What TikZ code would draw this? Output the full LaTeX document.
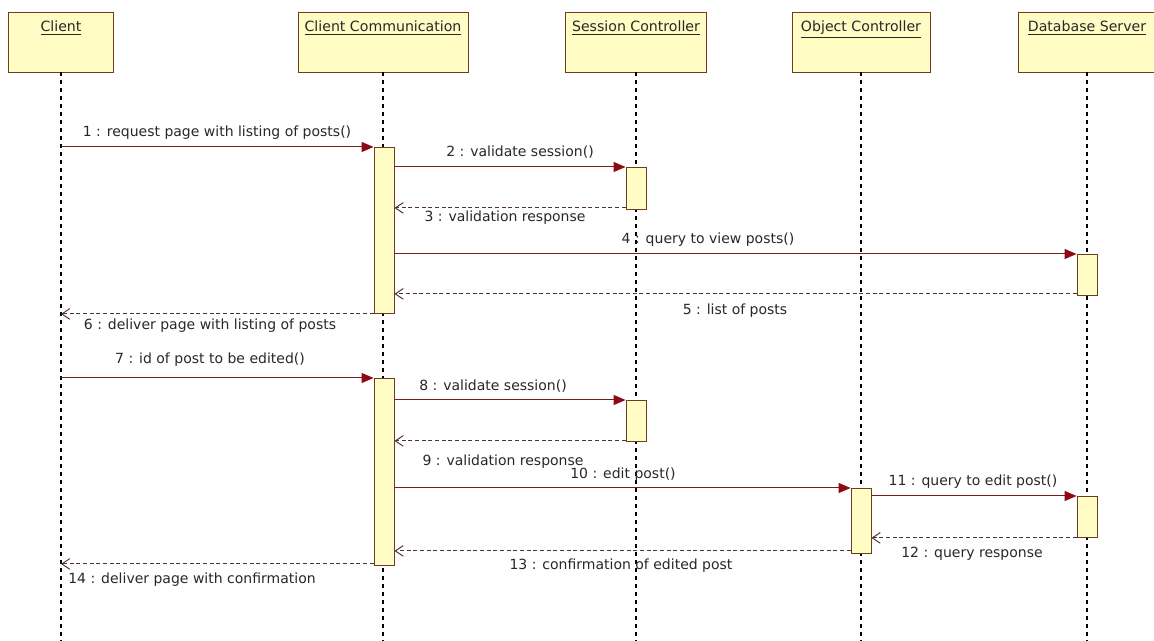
\documentclass[tikz,border=0pt]{standalone}
\usepackage{fontspec}
\setmainfont{DejaVu Sans}
\usetikzlibrary{arrows.meta}
\definecolor{boxfill}{RGB}{255,252,196}
\definecolor{boxline}{RGB}{110,60,30}
\definecolor{callline}{RGB}{120,30,30}
\definecolor{callhead}{RGB}{140,10,20}
\definecolor{retline}{RGB}{80,50,50}
\definecolor{txt}{RGB}{40,40,40}
\begin{document}
\begin{tikzpicture}[x=0.75pt,y=-0.75pt,
  head/.style={draw=boxline, fill=boxfill, line width=0.7pt, minimum height=45pt,
    inner ysep=3.5pt, text height=11.5pt, text depth=26.5pt,
    font=\fontsize{10.6}{12}\selectfont, text=txt},
  lifeline/.style={draw=black, line width=0.8pt, dash pattern=on 3pt off 3pt},
  act/.style={draw=boxline, fill=boxfill, line width=0.7pt, minimum width=15pt,
    inner sep=0pt, anchor=north},
  call/.style={draw=callline, line width=0.75pt,
    -{Triangle[length=9pt,width=7.5pt,color=callhead]}},
  ret/.style={draw=retline, line width=0.7pt, dash pattern=on 3pt off 2pt,
    -{Straight Barb[length=6pt,width=8pt]}},
  msg/.style={font=\fontsize{10.5}{12}\selectfont, text=txt, inner sep=1pt}
]
\useasboundingbox (0,0) rectangle (1154,641);
\fill[white] (0,0) rectangle (1154,641);
\coordinate (floor) at (0,641);

% lifeline heads
\node[head, minimum width=78.75pt]  (client) at (61,42)   {\underline{Client}};
\node[head, minimum width=127.5pt]  (cc)     at (383,42)  {\underline{Client Communication}};
\node[head, minimum width=105.75pt] (sc)     at (636,42)  {\underline{Session Controller}};
\node[head, minimum width=103.5pt]  (oc)     at (861,42)  {\underline{Object Controller}};
\node[head, minimum width=103.5pt]  (db)     at (1087,42) {\underline{Database Server}};

% lifelines
\foreach \n in {client,cc,sc,oc,db}
  \draw[lifeline] (\n.south) -- (\n.south |- floor);

% activations
\node[act, minimum height=124.5pt]  (cc1) at (384,147)  {};
\node[act, minimum height=31.5pt]   (sc1) at (636,167)  {};
\node[act, minimum height=30.75pt]  (db1) at (1087,254) {};
\node[act, minimum height=140.25pt] (cc2) at (384,378)  {};
\node[act, minimum height=30.75pt]  (sc2) at (636,400)  {};
\node[act, minimum height=48.75pt]  (oc1) at (861,488)  {};
\node[act, minimum height=30.75pt]  (db2) at (1087,496) {};

% messages
\draw[call] (client.south |- cc1.north) -- (cc1.north west);
\draw[call] (cc1.east |- sc1.north) -- (sc1.north west);
\coordinate (r3) at ([yshift=1.5pt]sc1.south west);
\draw[ret] (r3) -- (cc1.east |- r3);
\draw[call] (cc1.east |- db1.north) -- (db1.north west);
\coordinate (r5) at ([yshift=1.5pt]db1.south west);
\draw[ret] (r5) -- (cc1.east |- r5);
\draw[ret] (cc1.south west) -- (client.south |- cc1.south);

\draw[call] (client.south |- cc2.north) -- (cc2.north west);
\draw[call] (cc2.east |- sc2.north) -- (sc2.north west);
\coordinate (r9) at ([yshift=0.75pt]sc2.south west);
\draw[ret] (r9) -- (cc2.east |- r9);
\draw[call] (cc2.east |- oc1.north) -- (oc1.north west);
\draw[call] (oc1.east |- db2.north) -- (db2.north west);
\draw[ret] (db2.south west) -- (oc1.east |- db2.south);
\coordinate (r13) at ([yshift=2.25pt]oc1.south west);
\draw[ret] (r13) -- (cc2.east |- r13);
\coordinate (r14) at ([yshift=1.5pt]cc2.south west);
\draw[ret] (r14) -- (client.south |- r14);

% message labels
\node[msg] (l1)  at (217,133) {1 : request page with listing of posts()};
\node[msg] (l2)  at (520,152) {2 : validate session()};
\node[msg] (l3)  at (505,218) {3 : validation response};
\node[msg] (l4)  at (708,240) {4 : query to view posts()};
\node[msg] (l5)  at (735,311) {5 : list of posts};
\node[msg] (l6)  at (210,326) {6 : deliver page with listing of posts};
\node[msg] (l7)  at (210,360) {7 : id of post to be edited()};
\node[msg] (l8)  at (493,386) {8 : validate session()};
\node[msg] (l9)  at (503,462) {9 : validation response};
\node[msg] (l10) at (623,475) {10 : edit post()};
\node[msg] (l11) at (973,482) {11 : query to edit post()};
\node[msg] (l12) at (972,554) {12 : query response};
\node[msg] (l13) at (621,566) {13 : confirmation of edited post};
\node[msg] (l14) at (192,580) {14 : deliver page with confirmation};
\end{tikzpicture}
\end{document}
